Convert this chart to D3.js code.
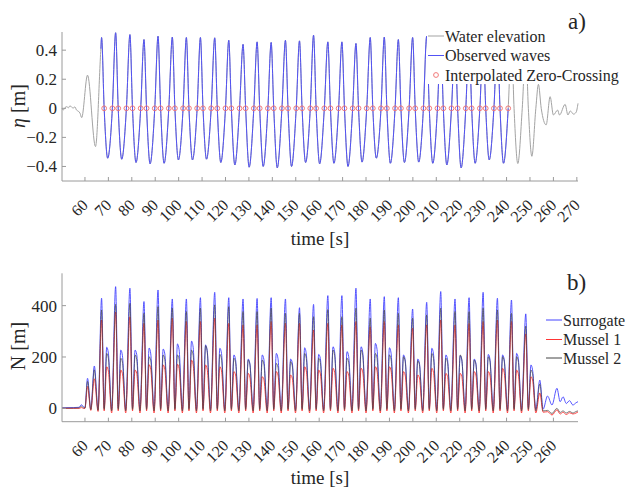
<!DOCTYPE html>
<html>
<head>
<meta charset="utf-8">
<script src="https://cdn.jsdelivr.net/npm/d3@7"></script>
<style>
body{margin:0;background:#fff;}
svg{display:block;font-family:"Liberation Serif","Times New Roman",serif;}
</style>
</head>
<body>
<svg id="drawsvg" width="625" height="490"></svg>
<script>
// ---- panel a) water elevation ----
var crestT = [67.1, 73.1, 79.2, 85.2, 91.2, 97.3, 103.3, 109.3, 115.4, 121.4, 127.5, 133.5, 139.5, 145.6, 151.6, 157.6,
  163.7, 169.7, 175.7, 181.8, 187.8, 193.8, 199.9, 205.9, 211.9, 218.0, 224.0, 230.0, 236.1, 242.1, 248.2];
var crestEta = [0.487, 0.52, 0.507, 0.473, 0.496, 0.49, 0.487, 0.487, 0.485, 0.468, 0.44, 0.457, 0.453, 0.468, 0.464,
  0.503, 0.457, 0.457, 0.446, 0.487, 0.49, 0.473, 0.487, 0.496, 0.48, 0.47, 0.49, 0.46, 0.48];
var zeroDownT = [68.2, 74.2, 80.3, 86.3, 92.3, 98.4, 104.4, 110.4, 116.5, 122.5, 128.6, 134.6, 140.6, 146.7, 152.7,
  158.7, 164.8, 170.8, 176.8, 182.9, 188.9, 194.9, 201.0, 207.0, 213.0, 219.1, 225.1, 231.1, 237.2];
var troughT = [69.7, 75.7, 81.8, 87.8, 93.8, 99.9, 105.9, 111.9, 118.0, 124.0, 130.1, 136.1, 142.1, 148.2, 154.2,
  160.2, 166.3, 172.3, 178.3, 184.4, 190.4, 196.4, 202.5, 208.5, 214.5, 220.6, 226.6, 232.6, 238.7];
var troughEta = [-0.343, -0.35, -0.373, -0.382, -0.378, -0.355, -0.355, -0.35, -0.373, -0.39, -0.405, -0.4, -0.41, -0.4,
  -0.373, -0.382, -0.378, -0.4, -0.37, -0.343, -0.378, -0.373, -0.37, -0.378, -0.39, -0.41, -0.378, -0.355, -0.378];
var zeroUpT = [71.7, 77.7, 83.8, 89.8, 95.8, 101.9, 107.9, 113.9, 120.0, 126.0, 132.1, 138.1, 144.1, 150.2, 156.2,
  162.2, 168.3, 174.3, 180.3, 186.4, 192.4, 198.4, 204.5, 210.5, 216.5, 222.6, 228.6, 234.6, 240.7];
// gray record before and after the observed waves
var preT = [50.2, 50.7, 51.5, 52.2, 53.0, 53.6, 54.3, 55.0, 55.7, 56.4, 57.2, 57.9, 58.6, 61.1, 64.5, 66.8];
var preEta = [0.0, -0.012, 0.005, 0.011, 0.004, 0.018, 0.008, 0.002, 0.01, -0.012, -0.02, -0.034, -0.064, 0.228, -0.263, 0.41];
var postT = [242.1, 243.2, 244.8, 246.7, 248.2, 249.3, 250.8, 252.5, 253.6, 254.8, 256.9, 258.6, 260.0, 261.8, 262.6,
  265.0, 266.2, 267.2, 268.6, 269.7, 270.5];
var postEta = [0.47, 0, -0.38, 0, 0.42, 0, -0.33, 0, 0.165, 0, -0.114, 0.08, -0.046, -0.012, -0.046, 0.027, -0.046,
  -0.018, -0.04, -0.027, 0.034];

// ---- panel b) line tension N, one tall peak and one secondary hump per wave ----
var nPhase = [0, 1.1, 2.2, 2.9, 4.3];   // s after crest: tall, dip, hump, shoulder, dip
var surTall = [429, 474, 468, 416, 461, 426, 426, 431, 452, 431, 426, 428, 431, 426, 392, 405, 439, 439, 468, 426,
  435, 431, 387, 413, 455, 426, 431, 452, 429, 422, 368];
var surHump = [238, 227, 227, 235, 231, 251, 262, 247, 234, 208, 192, 208, 214, 192, 236, 210, 240, 221, 240, 253,
  236, 208, 192, 234, 208, 205, 192, 210, 208, 214, 169];
var surShoulder = [215, 205, 210, 212, 212, 228, 238, 225, 214, 190, 175, 190, 195, 178, 212, 194, 220, 202, 218, 230,
  215, 190, 176, 212, 190, 188, 176, 192, 190, 195, 150];
var surDip = [2, -4];
var m1Tall = [344, 375, 357, 331, 344, 351, 338, 338, 351, 331, 325, 325, 338, 331, 331, 305, 331, 325, 338, 318,
  338, 325, 312, 325, 344, 325, 331, 338, 344, 338, 290];
var m1Hump = [162, 149, 149, 170, 169, 172, 188, 169, 162, 143, 136, 123, 143, 130, 162, 149, 156, 143, 156, 162,
  162, 143, 130, 156, 136, 136, 143, 143, 156, 149, 123];
var m1Shoulder = [145, 135, 136, 152, 152, 155, 170, 152, 146, 130, 122, 112, 130, 118, 146, 135, 140, 130, 142, 146,
  146, 130, 118, 140, 124, 124, 130, 130, 140, 135, 110];
var m1Dip = [-10, -18];
var m2Tall = [383, 405, 409, 370, 396, 390, 377, 390, 403, 396, 377, 377, 390, 370, 370, 357, 385, 357, 390, 351,
  383, 370, 351, 364, 390, 377, 377, 390, 383, 370, 320];
var m2Hump = [214, 195, 208, 201, 208, 208, 227, 244, 210, 195, 188, 188, 175, 182, 214, 195, 227, 195, 227, 214,
  208, 201, 185, 214, 195, 208, 188, 201, 201, 201, 149];
var m2Shoulder = [195, 180, 190, 185, 190, 190, 206, 220, 192, 178, 172, 172, 160, 166, 195, 178, 206, 178, 206, 195,
  190, 184, 170, 195, 178, 190, 172, 184, 184, 184, 135];
var m2Dip = [-4, -10];
var nPreT = [50.2, 55.0, 57.5, 58.5, 59.4, 60.0, 61.1, 62.5, 64.0, 65.6];
var surPre = [2, 3, 4, 14, 6, 3, 117, -3, 165, -4];
var m1Pre = [0, 0, 0, 3, 0, 0, 85, -8, 115, -12];
var m2Pre = [1, 1, 2, 8, 2, 1, 105, -5, 150, -8];
var nPostT = [254.2, 255.6, 257.5, 259.4, 261.5, 262.9, 264.1, 265.5, 266.9, 268.3, 269.7, 270.5];
var surPost = [110, -3, 48, 13, 78, 26, 45, 19, 30, 13, 22, 26];
var m1Post = [60, -15, -13, -26, -6, -22, -15, -24, -17, -22, -18, -14];
var m2Post = [95, -10, -8, -20, 0, -16, -10, -18, -12, -18, -12, -10];

// ticks
var xTicksA = [60, 70, 80, 90, 100, 110, 120, 130, 140, 150, 160, 170, 180, 190, 200, 210, 220, 230, 240, 250, 260, 270];
var xTicksB = [60, 70, 80, 90, 100, 110, 120, 130, 140, 150, 160, 170, 180, 190, 200, 210, 220, 230, 240, 250, 260];
var yTicksA = [-0.4, -0.2, 0, 0.2, 0.4];
var yTicksB = [0, 200, 400];

var axisColor = '#9a9a9a', textColor = '#262626';
var waterColor = '#a3a3a3', waveColor = '#5252f5', zcColor = '#f27a7a';
var svg = d3.select('#drawsvg');

var x = d3.scaleLinear().domain([50.2, 270.5]).range([62, 578]);
var yA = d3.scaleLinear().domain([-0.5, 0.525]).range([181, 32]);
var yB = d3.scaleLinear().domain([-52, 526]).range([421.7, 273.3]);

function zip(ts, vs){
  var out = [];
  for(var i = 0; i < ts.length; i ++)
    out.push([ts[i], vs[i]]);
  return out;
}

function waveObserved(){
  var pts = [[preT[preT.length - 1], preEta[preEta.length - 1]]];
  for(var k = 0; k < crestEta.length; k ++){
    pts.push([crestT[k], crestEta[k]]);
    pts.push([zeroDownT[k], 0]);
    pts.push([troughT[k], troughEta[k]]);
    pts.push([zeroUpT[k], 0]);
  }
  return pts;
}

function tensionSeries(pre, tall, hump, shoulder, dip, post){
  var pts = zip(nPreT, pre);
  for(var k = 0; k < tall.length; k ++){
    var t0 = crestT[k];
    pts.push([t0 + nPhase[0], tall[k]]);
    pts.push([t0 + nPhase[1], dip[0]]);
    pts.push([t0 + nPhase[2], hump[k]]);
    pts.push([t0 + nPhase[3], shoulder[k]]);
    pts.push([t0 + nPhase[4], dip[1]]);
  }
  return pts.concat(zip(nPostT, post));
}

function drawAxes(y, xTicks, yTicks, fmt, labelY, yLabel, yLabelMid){
  var g = svg.append('g');
  var y0 = y.range()[1], y1 = y.range()[0];
  g.append('line').attr('x1', 62).attr('x2', 62).attr('y1', y0).attr('y2', y1)
   .style('stroke', axisColor);
  g.append('line').attr('x1', 62).attr('x2', 578).attr('y1', y1).attr('y2', y1)
   .style('stroke', axisColor);
  g.selectAll('.xt').data(xTicks).enter().append('line')
   .attr('x1', function(d){ return x(d); }).attr('x2', function(d){ return x(d); })
   .attr('y1', y1).attr('y2', y1 - 4).style('stroke', axisColor);
  g.selectAll('.yt').data(yTicks).enter().append('line')
   .attr('x1', 62).attr('x2', 66)
   .attr('y1', function(d){ return y(d); }).attr('y2', function(d){ return y(d); })
   .style('stroke', axisColor);
  // rotated time labels, end of text at the tick
  g.selectAll('.xl').data(xTicks).enter().append('text')
   .text(function(d){ return d; })
   .attr('text-anchor', 'end')
   .attr('transform', function(d){ return 'translate(' + (x(d) + 4) + ',' + (y1 + 25) + ') rotate(-45)'; })
   .style('font-size', '16px').style('fill', textColor);
  g.selectAll('.yl').data(yTicks).enter().append('text')
   .text(fmt)
   .attr('text-anchor', 'end')
   .attr('x', 57).attr('y', function(d){ return y(d); }).attr('dy', '0.35em')
   .style('font-size', '17px').style('fill', textColor);
  g.append('text').text('time [s]')
   .attr('text-anchor', 'middle').attr('x', 320).attr('y', labelY)
   .style('font-size', '19px').style('fill', textColor);
  var yl = g.append('text')
   .attr('text-anchor', 'middle')
   .attr('transform', 'translate(25,' + yLabelMid + ') rotate(-90)')
   .style('font-size', '20px').style('fill', textColor);
  yl.append('tspan').text(yLabel[0]).style('font-style', yLabel[2] ? 'italic' : 'normal');
  yl.append('tspan').text(yLabel[1]);
}

function drawLegend(x0, y0, w, h, items){
  var g = svg.append('g');
  g.append('rect').attr('x', x0).attr('y', y0).attr('width', w).attr('height', h).style('fill', '#fff');
  for(var i = 0; i < items.length; i ++){
    var it = items[i];
    var cy = it.y;
    if(it.marker){
      g.append('circle').attr('cx', x0 + 9).attr('cy', cy).attr('r', 2.4)
       .style('fill', 'none').style('stroke', it.color).style('stroke-width', 1);
    }else{
      g.append('line').attr('x1', x0 + 1).attr('x2', x0 + 17).attr('y1', cy).attr('y2', cy)
       .style('stroke', it.color);
    }
    g.append('text').text(it.label).attr('x', x0 + 18).attr('y', cy).attr('dy', '0.35em')
     .style('font-size', '16px').style('fill', textColor);
  }
}

var line = function(y){
  return d3.line().x(function(d){ return x(d[0]); }).y(function(d){ return y(d[1]); }).curve(d3.curveMonotoneX);
};

// ---- panel a ----
var waterAll = zip(preT, preEta).concat(waveObserved().slice(1)).concat(zip(postT, postEta));
var gA = svg.append('g');
gA.append('path').attr('d', line(yA)(waterAll))
  .style('fill', 'none').style('stroke', waterColor).style('stroke-width', 1);
gA.append('path').attr('d', line(yA)(waveObserved()))
  .style('fill', 'none').style('stroke', waveColor).style('stroke-width', 1);
gA.selectAll('.zc').data(zeroDownT.concat(zeroUpT)).enter().append('circle')
  .attr('cx', function(d){ return x(d); }).attr('cy', yA(0)).attr('r', 2.4)
  .style('fill', 'none').style('stroke', zcColor).style('stroke-width', 1);
drawAxes(yA, xTicksA, yTicksA, function(d){ return d === 0 ? '0' : d3.format('.1f')(d); },
  245, ['\u03b7', ' [m]', true], 106);
drawLegend(427, 26, 198, 58, [
  {label: 'Water elevation', color: waterColor, y: 36},
  {label: 'Observed waves', color: waveColor, y: 55.5},
  {label: 'Interpolated Zero-Crossing', color: zcColor, y: 75, marker: true}
]);
svg.append('text').text('a)').attr('x', 568).attr('y', 29)
  .style('font-size', '23px').style('fill', textColor);

// ---- panel b ----
var gB = svg.append('g');
var series = [
  {label: 'Surrogate', color: '#4444ff', data: tensionSeries(surPre, surTall, surHump, surShoulder, surDip, surPost)},
  {label: 'Mussel 1', color: '#ff3535', data: tensionSeries(m1Pre, m1Tall, m1Hump, m1Shoulder, m1Dip, m1Post)},
  {label: 'Mussel 2', color: '#444444', data: tensionSeries(m2Pre, m2Tall, m2Hump, m2Shoulder, m2Dip, m2Post)}
];
for(var s = 0; s < series.length; s ++){
  gB.append('path').attr('d', line(yB)(series[s].data))
    .style('fill', 'none').style('stroke', series[s].color).style('stroke-width', 1)
    .style('opacity', s == 2 ? 0.7 : 0.9);
}
drawAxes(yB, xTicksB, yTicksB, function(d){ return d; }, 484, ['N', ' [m]', false], 346);
drawLegend(545, 310, 80, 58, [
  {label: 'Surrogate', color: '#4444ff', y: 320},
  {label: 'Mussel 1', color: '#ff3535', y: 339.5},
  {label: 'Mussel 2', color: '#444444', y: 358}
]);
svg.append('text').text('b)').attr('x', 567).attr('y', 290)
  .style('font-size', '23px').style('fill', textColor);
</script>
</body>
</html>
